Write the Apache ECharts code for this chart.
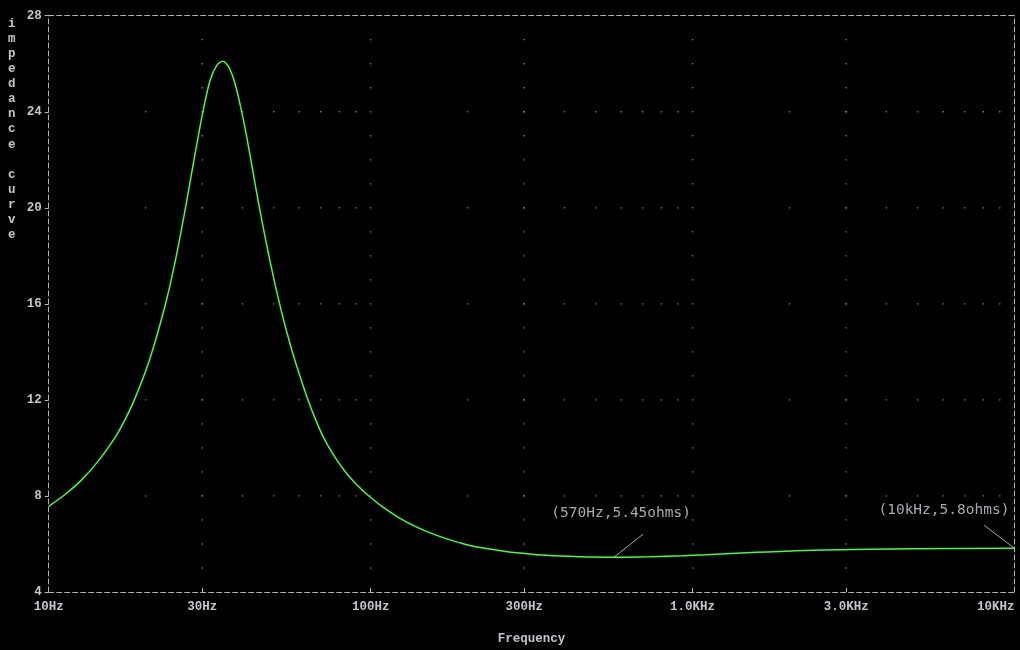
<!DOCTYPE html>
<html><head><meta charset="utf-8">
<script src="https://cdn.jsdelivr.net/npm/echarts@6/dist/echarts.min.js"></script>
<style>html,body{margin:0;padding:0;background:#000}#c{width:1020px;height:650px}</style>
</head><body><div id="c"></div>
<script>
// ---- data ----
const freqHz = [10, 11.24, 12.63, 14.23, 16.03, 17.20, 18.41, 20.49, 22.93, 24.69, 26.51, 28.18, 30.06, 31.71, 33.26, 34.72, 36.06, 37.10, 38.18, 39.57, 41.02, 42.21, 43.43, 44.85, 46.32, 47.99, 49.92, 52.04, 54.60, 57.41, 60.36, 63.77, 67.18, 71.13, 76.42, 83.27, 90.09, 98.37, 109.5, 123.4, 139.1, 156.6, 176.5, 198.9, 223.9, 265.3, 285.0, 306.2, 331.2, 371.4, 444.1, 570, 737.9, 934.5, 1101, 1271, 1466, 1704, 2037, 2580, 4842, 10000];
const impedance = [7.57, 8.06, 8.66, 9.44, 10.41, 11.14, 11.97, 13.60, 15.87, 17.74, 19.89, 21.89, 23.93, 25.30, 25.93, 26.10, 25.91, 25.56, 25.02, 24.13, 23.10, 22.19, 21.25, 20.21, 19.22, 18.19, 17.10, 16.05, 14.94, 13.90, 12.97, 12.03, 11.24, 10.48, 9.74, 9.02, 8.50, 8.02, 7.52, 7.07, 6.70, 6.41, 6.17, 5.97, 5.83, 5.68, 5.63, 5.59, 5.55, 5.51, 5.47, 5.45, 5.47, 5.51, 5.55, 5.59, 5.63, 5.67, 5.71, 5.75, 5.80, 5.82];
const xTickValues = [10, 30, 100, 300, 1000, 3000, 10000];
const xTickLabels = ['10Hz', '30Hz', '100Hz', '300Hz', '1.0KHz', '3.0KHz', '10KHz'];
const yTickValues = [4, 8, 12, 16, 20, 24, 28];
const gridLineFreqs = [30, 100, 300, 1000, 3000];
const gridLineLevels = [8, 12, 16, 20, 24];
const minorFreqs = [20,30,40,50,60,70,80,90,200,300,400,500,600,700,800,900,2000,3000,4000,5000,6000,7000,8000,9000];
const gridDotLevels = [5,6,7,8,9,10,11,12,13,14,15,16,17,18,19,20,21,22,23,24,25,26,27];
const annotationTexts = ['(570Hz,5.45ohms)', '(10kHz,5.8ohms)'];
const annotationPoints = [[570, 5.45], [10000, 5.82]];
const yTitle = 'impedance curve';
const xTitle = 'Frequency';

// ---- build ----
const curve = freqHz.map((f, i) => [f, impedance[i]]);
const dots = [];
gridLineLevels.forEach(y => minorFreqs.forEach(f => dots.push([f, y])));
gridLineFreqs.forEach(f => gridDotLevels.forEach(y => dots.push([f, y])));

const GRAY = '#b4b4c4';
const TXT = '#c4c4cc';
const FONT = '"Liberation Mono", "DejaVu Sans Mono", monospace';
const dash = [5, 3];

// annotation geometry (leader-line top end and text centre, in data space)
const leaderEnds = [[702, 6.41], [8046, 6.78]];
const textCentres = [[600, 7.27], [6036, 7.40]];

const chart = echarts.init(document.getElementById('c'), null, {renderer: 'canvas'});
chart.setOption({
  backgroundColor: '#000',
  animation: false,
  grid: {left: 48.7, right: 5.5, top: 15.7, bottom: 52.7, containLabel: false},
  xAxis: [{
    type: 'log', min: 10, max: 10000, logBase: 10,
    name: xTitle, nameLocation: 'middle', nameGap: 40,
    nameTextStyle: {color: TXT, fontFamily: FONT, fontWeight: 'bold', fontSize: 12.5},
    axisLine: {show: true, lineStyle: {color: GRAY, width: 1, type: dash}},
    axisTick: {show: true, inside: true, length: 4, customValues: xTickValues, lineStyle: {color: GRAY}},
    axisLabel: {show: true, customValues: xTickValues, margin: 8, color: TXT, fontFamily: FONT, fontWeight: 'bold', fontSize: 12.5,
      alignMaxLabel: 'right', alignMinLabel: 'center',
      formatter: v => { const i = xTickValues.findIndex(t => Math.abs(t - v) / t < 1e-6); return i >= 0 ? xTickLabels[i] : ''; }},
    splitLine: {show: false}, minorTick: {show: false}, minorSplitLine: {show: false}
  }, {
    type: 'log', min: 10, max: 10000, position: 'top',
    axisLine: {show: true, lineStyle: {color: GRAY, width: 1, type: dash}},
    axisTick: {show: false}, axisLabel: {show: false}, splitLine: {show: false}
  }],
  yAxis: [{
    type: 'value', min: 4, max: 28, interval: 4,
    axisLine: {show: true, lineStyle: {color: GRAY, width: 1, type: dash}},
    axisTick: {show: true, length: 4, lineStyle: {color: GRAY}},
    axisLabel: {margin: 7, color: TXT, fontFamily: FONT, fontWeight: 'bold', fontSize: 12.5},
    splitLine: {show: false}
  }, {
    type: 'value', min: 4, max: 28, position: 'right',
    axisLine: {show: true, lineStyle: {color: GRAY, width: 1, type: dash}},
    axisTick: {show: false}, axisLabel: {show: false}, splitLine: {show: false}
  }],
  graphic: [{
    type: 'text', left: 8, top: 16,
    style: {text: yTitle.split('').join('\n'), fill: TXT, font: 'bold 12.5px ' + FONT, lineHeight: 15.1, align: 'center'}
  }],
  series: [{
    type: 'scatter', data: dots, symbol: 'rect', symbolSize: 1.3, silent: true,
    itemStyle: {color: '#a8a8b8'}, z: 1
  }, {
    type: 'line', data: curve, showSymbol: false, smooth: 0.3,
    lineStyle: {color: '#40ff40', width: 1.5}, z: 5,
    markLine: {
      silent: true, symbol: ['none', 'none'], label: {show: false},
      lineStyle: {color: '#a8a8b0', width: 1, type: 'solid'},
      data: annotationPoints.map((p, i) => [{coord: p}, {coord: leaderEnds[i]}])
    },
    markPoint: {
      silent: true,
      data: annotationTexts.map((t, i) => ({
        coord: textCentres[i], symbol: 'circle', symbolSize: 0,
        label: {show: true, position: 'inside', formatter: t, color: '#a8a8b0',
          fontFamily: '"DejaVu Sans Mono", monospace', fontSize: 14.5}
      }))
    }
  }]
});
</script></body></html>
